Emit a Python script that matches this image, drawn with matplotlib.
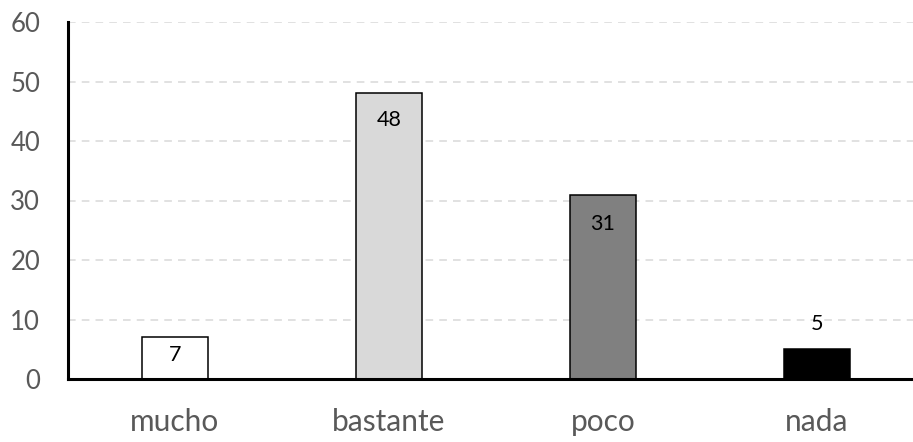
import matplotlib
matplotlib.use("Agg")
import matplotlib.pyplot as plt

categories = ["mucho", "bastante", "poco", "nada"]
values = [7, 48, 31, 5]
bar_colors = ["#FFFFFF", "#D9D9D9", "#808080", "#000000"]
# label offset from bar top, in pixels (negative = inside the bar)
label_offsets = [-18, -27, -29, 25]
yticks = [0, 10, 20, 30, 40, 50, 60]

plt.rcParams["font.family"] = ["Lato", "DejaVu Sans"]
TICK = "#595959"

W, H = 913, 442
fig = plt.figure(figsize=(W / 100, H / 100), dpi=100)
# axes run past the right edge: the last category slot is cut off
ax = fig.add_axes([68 / W, 63 / H, 856 / W, 357 / H])

x = list(range(len(categories)))
bars = ax.bar(x, values, width=0.31, color=bar_colors, edgecolor="#000000",
              linewidth=1.1, zorder=3)

for xi, v, off in zip(x, values, label_offsets):
    ax.annotate(str(v), (xi, v), xytext=(0, off * 0.72), textcoords="offset points",
                ha="center", va="center", fontsize=15.5, color="#000000", zorder=4)

ax.set_xlim(-0.5, len(categories) - 0.5)
ax.set_ylim(0, 60)
ax.set_yticks(yticks)
ax.set_xticks(x)
ax.set_xticklabels(categories)
ax.tick_params(axis="y", length=0, pad=20, labelsize=18.5, labelcolor=TICK)
ax.tick_params(axis="x", length=0, pad=21, labelsize=21.5, labelcolor=TICK)

ax.grid(axis="y", color="#D9D9D9", linestyle=(0, (5, 4)), linewidth=1.1, zorder=0)
ax.set_axisbelow(True)
for s in ["top", "right"]:
    ax.spines[s].set_visible(False)
for s in ["left", "bottom"]:
    ax.spines[s].set_color("#000000")
    ax.spines[s].set_linewidth(2.2)
    ax.spines[s].set_zorder(5)

fig.savefig("out.png", dpi=100)
